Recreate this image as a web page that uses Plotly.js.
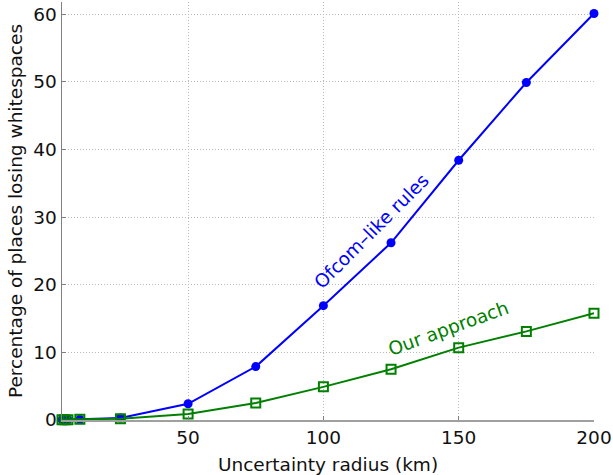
<!DOCTYPE html>
<html>
<head>
<meta charset="utf-8">
<script src="https://cdn.plot.ly/plotly-3.0.1.min.js"></script>
<style>html,body{margin:0;padding:0;background:#fff;}#chart{width:613px;height:475px;}</style>
</head>
<body>
<div id="chart"></div>
<script>
const radiusKm = [3.4, 4.5, 5.6, 10, 25, 50, 75, 100, 125, 150, 175, 200];
const ofcomLike = [0.05, 0.05, 0.05, 0.1, 0.3, 2.4, 7.9, 16.9, 26.2, 38.4, 49.9, 60.1];
const ourApproach = [0.05, 0.05, 0.05, 0.1, 0.2, 0.9, 2.5, 4.9, 7.5, 10.7, 13.1, 15.8];
const xTicks = [50, 100, 150, 200];
const yTicks = [0, 10, 20, 30, 40, 50, 60];

const font = 'DejaVu Sans, sans-serif';
const fs = 18.5;
const traces = [
  {x: radiusKm, y: ofcomLike, mode: 'lines+markers', name: 'Ofcom-like rules',
   line: {color: '#0000ff', width: 2}, marker: {symbol: 'circle', size: 9, color: '#0000ff'}, cliponaxis: false},
  {x: radiusKm, y: ourApproach, mode: 'lines+markers', name: 'Our approach',
   line: {color: '#008000', width: 2}, marker: {symbol: 'square-open', size: 9, color: '#008000', line: {width: 2}}, cliponaxis: false}
];
const layout = {
  width: 613, height: 475,
  margin: {l: 62, r: 19, t: 2, b: 55},
  showlegend: false,
  paper_bgcolor: '#fff', plot_bgcolor: '#fff',
  font: {family: font, size: fs, color: '#111'},
  xaxis: {range: [3.4, 200], tickvals: xTicks, ticks: 'inside', ticklen: 4, tickcolor: '#808080',
    showline: true, linecolor: '#a0a0a0', linewidth: 1.5, showgrid: true, gridcolor: '#b8b8b8', griddash: '1px,2px', gridwidth: 1,
    zeroline: false, title: {text: 'Uncertainty radius (km)', font: {size: fs}, standoff: 12}, tickfont: {size: fs}},
  yaxis: {range: [0, 61.8], tickvals: yTicks, ticks: 'inside', ticklen: 4, tickcolor: '#808080',
    showline: true, linecolor: '#808080', linewidth: 1.5, showgrid: true, gridcolor: '#b8b8b8', griddash: '1px,2px', gridwidth: 1,
    zeroline: false, title: {text: 'Percentage of places losing whitespaces', font: {size: fs}, standoff: 6}, tickfont: {size: fs}},
  annotations: [
    {x: 117.6, y: 27.9, xref: 'x', yref: 'y', text: 'Ofcom–like rules', showarrow: false, textangle: -45,
     font: {family: font, size: fs, color: '#0000ff'}},
    {x: 146, y: 13.6, xref: 'x', yref: 'y', text: 'Our approach', showarrow: false, textangle: -20,
     font: {family: font, size: fs, color: '#008000'}}
  ]
};
Plotly.newPlot('chart', traces, layout, {displayModeBar: false, staticPlot: true});
</script>
</body>
</html>
